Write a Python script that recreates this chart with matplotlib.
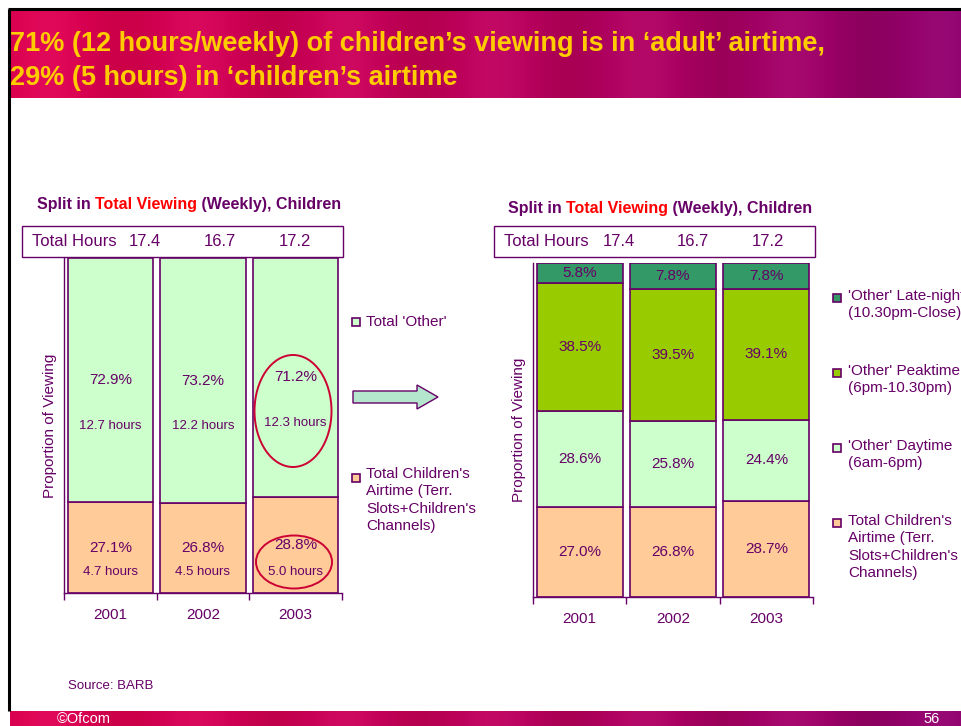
"""
Ofcom slide 56 - children's viewing split, adult vs children's airtime
Two stacked 100% bar charts side by side on a slide template.
"""

import numpy as np
import matplotlib
matplotlib.use("Agg")
import matplotlib.pyplot as plt
import matplotlib.patches as mpatches

plt.rcParams["font.family"] = ["Liberation Sans", "DejaVu Sans"]

# ── Data ──────────────────────────────────────────────────────────────────────
years = ["2001", "2002", "2003"]
total_hours = ["17.4", "16.7", "17.2"]

# left chart
kids_pct = [27.1, 26.8, 28.8]
other_pct = [72.9, 73.2, 71.2]
kids_hours = ["4.7 hours", "4.5 hours", "5.0 hours"]
other_hours = ["12.7 hours", "12.2 hours", "12.3 hours"]

# right chart
r_kids = [27.0, 26.8, 28.7]
r_daytime = [28.6, 25.8, 24.4]
r_peak = [38.5, 39.5, 39.1]
r_late = [5.8, 7.8, 7.8]

# ── Style ─────────────────────────────────────────────────────────────────────
PURPLE = "#660066"
PEACH = "#ffcc99"
MINT = "#ccffcc"
LIME = "#99cc00"
DKGREEN = "#339966"
RED = "#cc0033"

W, H = 961, 726
fig = plt.figure(figsize=(W / 100, H / 100), dpi=100)
fig.patch.set_facecolor("white")


def px_axes(x0, y0, x1, y1, **kw):
    """axes placed by pixel box (top-left origin)"""
    return fig.add_axes([x0 / W, 1 - y1 / H, (x1 - x0) / W, (y1 - y0) / H], **kw)


def px_canvas():
    a = px_axes(0, 0, W, H)
    a.set_xlim(0, W)
    a.set_ylim(H, 0)
    a.axis("off")
    a.patch.set_alpha(0)
    return a


# background canvas in pixel coords
bg = px_canvas()

# slide frame
bg.plot([8, W], [9, 9], color="black", lw=2.2, solid_capstyle="butt")
bg.plot([9, 9], [9, 711], color="black", lw=2.2, solid_capstyle="butt")

# banner gradient
grad = np.linspace(0, 1, 256)
c0 = np.array([0.85, 0.0, 0.31])
c1 = np.array([0.55, 0.0, 0.42])
band = c0[None, :] * (1 - grad[:, None] ** 1.3) + c1[None, :] * grad[:, None] ** 1.3
band = np.clip(band + 0.035 * np.sin(grad[:, None] * 40), 0, 1)
bg.imshow(band[None, :, :], extent=(10, W, 98, 10), aspect="auto", zorder=1)
bg.imshow(band[None, :, :], extent=(10, W, H, 711), aspect="auto", zorder=1)

bg.text(10, 44, "71% (12 hours/weekly) of children\u2019s viewing is in \u2018adult\u2019 airtime,",
        color="#ffcc00", fontsize=19.5, fontweight="bold", va="center", ha="left",
        zorder=2)
bg.text(10, 78, "29% (5 hours) in \u2018children\u2019s airtime",
        color="#ffcc00", fontsize=19.5, fontweight="bold", va="center", ha="left",
        zorder=2)

bg.text(57, 719, "\u00a9Ofcom", color="white", fontsize=10.5, va="center", zorder=2)
bg.text(923, 719, "56", color="white", fontsize=10.5, va="center", zorder=2)
bg.text(68, 686, "Source: BARB", color=PURPLE, fontsize=9.5, va="center")

renderer = fig.canvas.get_renderer()


def title_parts(x, y):
    parts = [("Split in ", PURPLE), ("Total Viewing", "#ff0000"),
             (" (Weekly), Children", PURPLE)]
    for s, c in parts:
        t = bg.text(x, y, s, color=c, fontsize=11.5, fontweight="bold",
                    va="center", ha="left")
        bb = t.get_window_extent(renderer)
        x += bb.width


def hours_box(x0, x1, xs):
    bg.add_patch(mpatches.Rectangle((x0, 226), x1 - x0, 31, fc="white",
                                    ec=PURPLE, lw=1.0))
    bg.text(x0 + 10, 242, "Total Hours", color=PURPLE, fontsize=12, va="center")
    for xv, h in zip(xs, total_hours):
        bg.text(xv, 242, h, color=PURPLE, fontsize=12, va="center", ha="center")


title_parts(37, 205)
title_parts(508, 209)
hours_box(22, 343, [145, 220, 295])
hours_box(494, 815, [619, 693, 768])


def style_axes(ax, ylabel):
    ax.set_xlim(-0.5, 2.5)
    ax.set_ylim(0, 100)
    for s in ["top", "right"]:
        ax.spines[s].set_visible(False)
    for s in ["left", "bottom"]:
        ax.spines[s].set_color(PURPLE)
        ax.spines[s].set_linewidth(1.0)
    ax.set_yticks([])
    ax.set_xticks([-0.5, 0.5, 1.5, 2.5])
    ax.set_xticklabels([])
    ax.set_xticks([0, 1, 2], minor=True)
    ax.set_xticklabels(years, minor=True)
    ax.tick_params(axis="x", which="major", length=5, color=PURPLE, width=1)
    ax.tick_params(axis="x", which="minor", length=0, labelcolor=PURPLE,
                   labelsize=11, pad=11)
    ax.set_ylabel(ylabel, color=PURPLE, fontsize=11, labelpad=5)
    ax.patch.set_alpha(0)


x = np.arange(len(years))
bw = 0.92

# ── Left chart ────────────────────────────────────────────────────────────────
axl = px_axes(64, 258, 342, 593)
axl.bar(x, kids_pct, bw, color=PEACH, edgecolor=PURPLE, lw=1.2)
axl.bar(x, other_pct, bw, bottom=kids_pct, color=MINT, edgecolor=PURPLE, lw=1.2)
style_axes(axl, "Proportion of Viewing")
for i in range(3):
    yo = kids_pct[i] + other_pct[i] / 2
    axl.text(i, yo, f"{other_pct[i]:.1f}%", ha="center", va="center",
             color=PURPLE, fontsize=11)
    axl.annotate(other_hours[i], (i, yo), xytext=(0, -33), textcoords="offset points",
                 ha="center", va="center", color=PURPLE, fontsize=9.5)
    axl.text(i, kids_pct[i] / 2, f"{kids_pct[i]:.1f}%", ha="center", va="center",
             color=PURPLE, fontsize=11)
    axl.annotate(kids_hours[i], (i, 0), xytext=(0, 15), textcoords="offset points",
                 ha="center", va="center", color=PURPLE, fontsize=9.5)

# left legend
bg.add_patch(mpatches.Rectangle((352, 318), 8, 8, fc=MINT, ec=PURPLE, lw=1.2))
bg.text(366, 322, "Total 'Other'", color=PURPLE, fontsize=11, va="center")
bg.add_patch(mpatches.Rectangle((352, 474), 8, 8, fc=PEACH, ec=PURPLE, lw=1.2))
bg.text(366, 467, "Total Children's\nAirtime (Terr.\nSlots+Children's\nChannels)",
        color=PURPLE, fontsize=11, va="top", linespacing=1.3)

# arrow between charts
bg.add_patch(mpatches.FancyArrow(353, 397, 85, 0, width=12, head_width=24,
                                 head_length=21, length_includes_head=True,
                                 fc="#b3e6cc", ec=PURPLE, lw=1))

# ── Right chart ───────────────────────────────────────────────────────────────
axr = px_axes(533, 263, 813, 597)
b1 = np.array(r_kids)
b2 = b1 + np.array(r_daytime)
b3 = b2 + np.array(r_peak)
axr.bar(x, r_kids, bw, color=PEACH, edgecolor=PURPLE, lw=1.2)
axr.bar(x, r_daytime, bw, bottom=b1, color=MINT, edgecolor=PURPLE, lw=1.2)
axr.bar(x, r_peak, bw, bottom=b2, color=LIME, edgecolor=PURPLE, lw=1.2)
axr.bar(x, r_late, bw, bottom=b3, color=DKGREEN, edgecolor=PURPLE, lw=1.2)
style_axes(axr, "Proportion of Viewing")
for i in range(3):
    for bot, v in [(0, r_kids[i]), (b1[i], r_daytime[i]), (b2[i], r_peak[i]),
                   (b3[i], r_late[i])]:
        axr.text(i, bot + v / 2, f"{v:.1f}%", ha="center", va="center",
                 color=PURPLE, fontsize=11)

# right legend
leg_items = [
    (DKGREEN, "'Other' Late-night\n(10.30pm-Close)", 298),
    (LIME, "'Other' Peaktime\n(6pm-10.30pm)", 373),
    (MINT, "'Other' Daytime\n(6am-6pm)", 448),
    (PEACH, "Total Children's\nAirtime (Terr.\nSlots+Children's\nChannels)", 523),
]
for col, lab, yy in leg_items:
    bg.add_patch(mpatches.Rectangle((833, yy - 4), 8, 8, fc=col, ec=PURPLE, lw=1.2))
    bg.text(848, yy - 9, lab, color=PURPLE, fontsize=11, va="top",
            linespacing=1.3, clip_on=False)

# overlay for the highlight circles on 2003 (above the bar axes)
top = px_canvas()
top.add_patch(mpatches.Ellipse((293, 411), 77, 112, fill=False, ec=RED, lw=1.4))
top.add_patch(mpatches.Ellipse((294, 562), 76, 53, fill=False, ec=RED, lw=1.4))

fig.savefig("out.png", dpi=100)
